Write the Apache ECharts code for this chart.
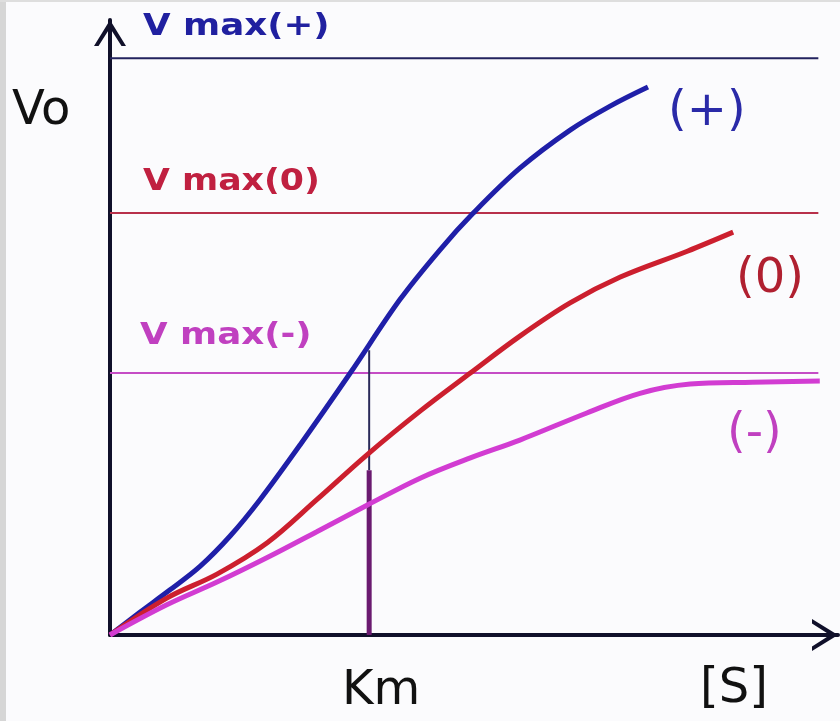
<!DOCTYPE html>
<html>
<head>
<meta charset="utf-8">
<script src="https://cdn.jsdelivr.net/npm/echarts@6/dist/echarts.min.js"></script>
<style>
  html, body { margin: 0; padding: 0; background: #fbfbfd; }
  #chart { width: 840px; height: 721px; }
</style>
</head>
<body>
<div id="chart"></div>
<script>
// curves: [S] vs Vo (axis units 0..100)
const curvePlus = [[0, 0], [4.1, 3.7], [8.2, 7.3], [12.4, 11.2], [16.5, 16.1], [20.6, 22.0], [26.1, 30.9], [33.0, 42.6], [39.8, 54.5], [45.3, 62.6], [49.9, 68.6], [56.3, 75.9], [63.2, 82.1], [68.7, 86.0], [73.9, 89.1]]
const curveZero = [[0, 0], [7.8, 6.0], [14.7, 9.9], [21.6, 15.0], [28.4, 22.0], [35.3, 29.3], [42.6, 36.4], [49.5, 42.6], [56.3, 48.6], [63.2, 54.0], [70.1, 58.2], [79.3, 62.4], [85.6, 65.5]]
const curveMinus = [[0, 0], [7.8, 4.9], [14.7, 8.6], [21.6, 12.6], [28.4, 16.8], [35.3, 21.1], [42.6, 25.5], [49.5, 28.8], [56.3, 31.7], [65.5, 36.1], [72.8, 39.3], [79.7, 40.8], [88.3, 41.1], [97.5, 41.3]]

// Vmax levels
const vmaxPlus = 93.8
const vmaxZero = 68.6
const vmaxMinus = 42.6
const vmaxEnd = 97.3

// Km marker
const km = 35.6
const kmTop = 46.3
const kmSplit = 26.8

const chart = echarts.init(document.getElementById('chart'))

// open chevron arrow for the axis ends
const arrowPath = 'path://M0,26 L16,0 L32,26 L27.5,26 L16,8 L4.5,26 Z'

const hLine = (value, color) => ({
  type: 'line',
  data: [[0, value], [vmaxEnd, value]],
  showSymbol: false,
  silent: true,
  lineStyle: { color, width: 2 },
  z: 1
})

const curve = (data, color) => ({
  type: 'line',
  data,
  smooth: 0.35,
  showSymbol: false,
  silent: true,
  lineStyle: { color, width: 5 },
  z: 3
})

const txt = (text, x, y, size, color, weight, sx) => ({
  type: 'text',
  x, y,
  scaleX: sx || 1,
  style: {
    text,
    fill: color,
    font: (weight || 'normal') + ' ' + size + 'px "DejaVu Sans"',
    textVerticalAlign: 'middle'
  },
  z: 10
})

const option = {
  backgroundColor: '#fbfbfd',
  animation: false,
  grid: { left: 110, right: 2, top: 20, bottom: 86 },
  xAxis: {
    type: 'value', min: 0, max: 100,
    axisLine: {
      lineStyle: { color: '#10102a', width: 4 },
      symbol: ['none', arrowPath],
      symbolSize: [32, 26],
      symbolOffset: [0, -13]
    },
    axisTick: { show: false },
    axisLabel: { show: false },
    splitLine: { show: false }
  },
  yAxis: {
    type: 'value', min: 0, max: 100,
    axisLine: {
      show: true,
      lineStyle: { color: '#10102a', width: 4 },
      symbol: ['none', arrowPath],
      symbolSize: [32, 26],
      symbolOffset: [0, -13]
    },
    axisTick: { show: false },
    axisLabel: { show: false },
    splitLine: { show: false }
  },
  series: [
    hLine(vmaxPlus, '#22225e'),
    hLine(vmaxZero, '#b8304a'),
    hLine(vmaxMinus, '#c54cc5'),
    {
      type: 'line',
      data: [[km, kmSplit], [km, kmTop]],
      showSymbol: false,
      silent: true,
      lineStyle: { color: '#2a2a5a', width: 2 },
      z: 2
    },
    {
      type: 'line',
      data: [[km, 0], [km, kmSplit]],
      showSymbol: false,
      silent: true,
      lineStyle: { color: '#6a1a70', width: 5 },
      z: 2
    },
    curve(curvePlus, '#1f1fa8'),
    curve(curveZero, '#cc1f2e'),
    curve(curveMinus, '#d23cd2')
  ],
  graphic: [
    { type: 'rect', shape: { x: 0, y: 0, width: 6, height: 721 }, style: { fill: '#d6d6d6' }, z: 0 },
    { type: 'rect', shape: { x: 0, y: 0, width: 840, height: 2 }, style: { fill: '#dedede' }, z: 0 },
    txt('V max(+)', 143, 27, 31, '#2020a0', 'bold', 1.15),
    txt('V max(0)', 143, 182, 31, '#c02040', 'bold', 1.12),
    txt('V max(-)', 140, 336, 31, '#c040c0', 'bold', 1.15),
    txt('Vo', 12, 112, 48, '#111111'),
    txt('(+)', 668, 113, 48, '#2a2aa8'),
    txt('(0)', 736, 280, 48, '#b02030'),
    txt('(-)', 727, 435, 48, '#c040c0'),
    txt('Km', 342, 692, 48, '#111111'),
    txt('[S]', 700, 690, 48, '#111111')
  ]
}

chart.setOption(option)
</script>
</body>
</html>
